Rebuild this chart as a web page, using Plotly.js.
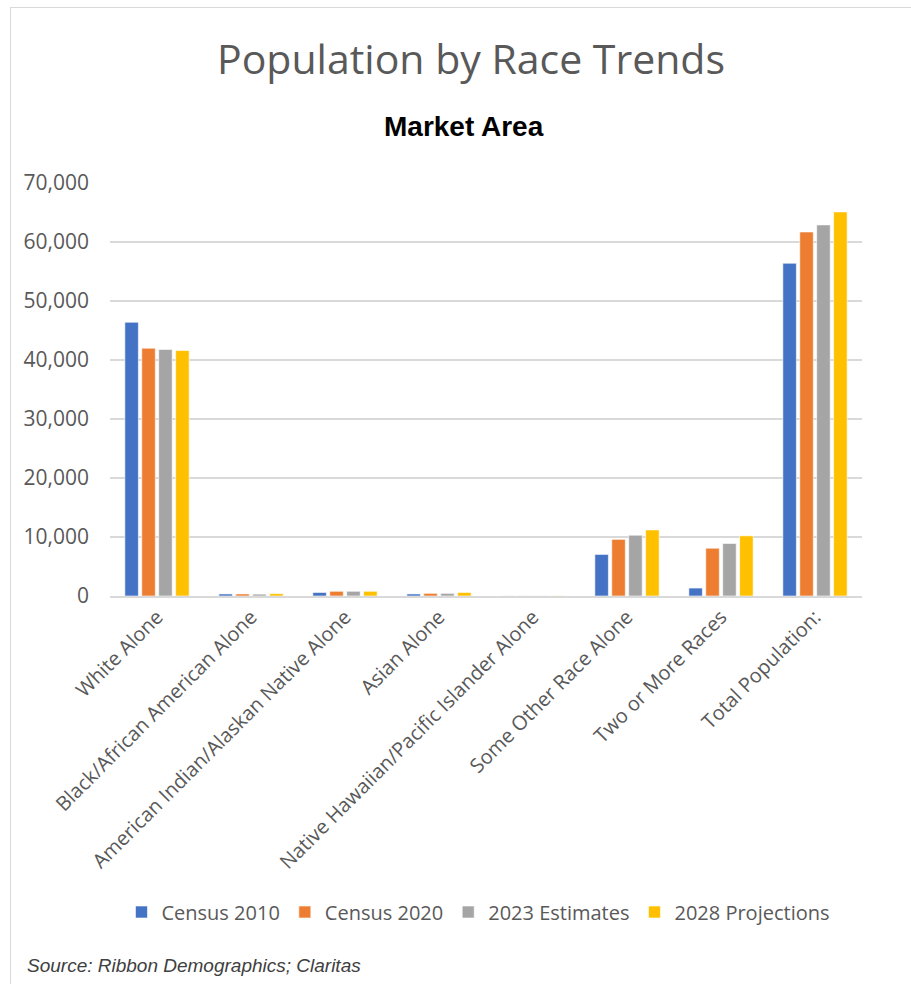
<!DOCTYPE html>
<html>
<head>
<meta charset="utf-8">
<script src="https://cdn.plot.ly/plotly-3.0.1.min.js"></script>
<style>
html,body{margin:0;padding:0;background:#fff;}
#frame{position:absolute;left:10px;top:7px;width:920px;height:990px;border-left:1.5px solid #d9d9d9;border-top:1.5px solid #d9d9d9;}
#chart{position:absolute;left:0;top:0;width:911px;height:984px;}
</style>
</head>
<body>
<div id="frame"></div>
<div id="chart"></div>
<script>
const categories = ["White Alone","Black/African American Alone","American Indian/Alaskan Native Alone","Asian Alone","Native Hawaiian/Pacific Islander Alone","Some Other Race Alone","Two or More Races","Total Population:"];
const seriesNames = ["Census 2010","Census 2020","2023 Estimates","2028 Projections"];
const census2010 = [46400, 350, 600, 350, 15, 7050, 1350, 56400];
const census2020 = [42000, 350, 800, 450, 20, 9600, 8100, 61700];
const estimates2023 = [41800, 320, 800, 450, 20, 10300, 8900, 62900];
const projections2028 = [41600, 400, 800, 600, 25, 11200, 10200, 65100];
const yTickVals = [0,10000,20000,30000,40000,50000,60000,70000];
const colors = ["#4472C4","#ED7D31","#A5A5A5","#FFC000"];

const values = [census2010, census2020, estimates2023, projections2028];
const traces = values.map((v,i)=>({
  type:'bar', name: seriesNames[i], x: categories, y: v,
  marker:{color: colors[i], line:{color:'rgba(255,255,255,0.6)', width:1}}
}));

const layout = {
  width: 911, height: 984,
  margin:{l:110, r:49, t:183, b:388},
  paper_bgcolor:'rgba(0,0,0,0)', plot_bgcolor:'rgba(0,0,0,0)',
  barmode:'group', bargap:0.28, bargroupgap:0.2,
  title:{text:'Population by Race Trends', font:{family:'Open Sans', size:41, color:'#595959'}, x:0.517, xanchor:'center', y:1-60/984, yanchor:'middle', yref:'container'},
  xaxis:{tickangle:-45, tickfont:{family:'Open Sans', size:20, color:'#595959'}, showline:true, linecolor:'#d9d9d9', linewidth:1.5, ticks:'', automargin:false},
  yaxis:{range:[0,70000], tickvals:yTickVals, tickformat:',d', tickfont:{family:'Open Sans', size:21, color:'#595959'}, ticklabelstandoff:20, gridcolor:'#d9d9d9', gridwidth:1.5, zeroline:false, showline:false, ticks:'', ticklen:0, automargin:false},
  showlegend:true,
  legend:{orientation:'h', x:0.49, xanchor:'center', y:(596-912)/413, yanchor:'middle', font:{family:'Open Sans', size:20, color:'#595959'}, itemwidth:30, traceorder:'normal'},
  annotations:[
    {text:'<b>Market Area</b>', xref:'paper', yref:'paper', x:(464-110)/752, y:(596-127)/413, xanchor:'center', yanchor:'middle', showarrow:false, font:{family:'Liberation Sans', size:28, color:'#000'}},
    {text:'<i>Source: Ribbon Demographics; Claritas</i>', xref:'paper', yref:'paper', x:(25-110)/752, y:(596-965)/413, xanchor:'left', yanchor:'middle', showarrow:false, font:{family:'Liberation Sans', size:19, color:'#404040'}}
  ]
};
Plotly.newPlot('chart', traces, layout, {displayModeBar:false, staticPlot:true});
</script>
</body>
</html>
